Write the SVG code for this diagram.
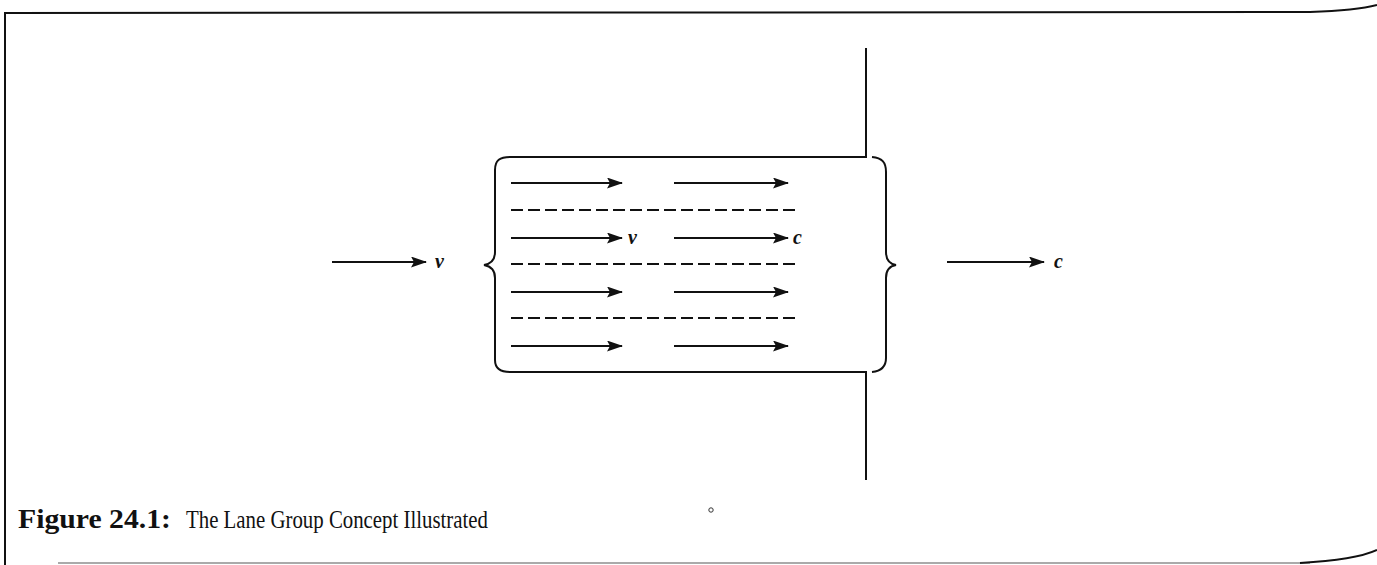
<svg xmlns="http://www.w3.org/2000/svg" width="1377" height="565" viewBox="0 0 1377 565">
<style>
.ln{stroke:#111;stroke-width:2;fill:none}
.arr{stroke:#111;stroke-width:2.2;fill:none;marker-end:url(#ah)}
.dash{stroke:#111;stroke-width:1.8;fill:none;stroke-dasharray:12,5}
.lbl{font-family:"Liberation Serif",serif;font-style:italic;font-weight:bold;font-size:20px;fill:#111}
.cap{font-family:"Liberation Serif",serif;font-size:26px;fill:#111}
.capb{font-family:"Liberation Serif",serif;font-size:28px;font-weight:bold;fill:#111}
</style>
<defs>
<marker id="ah" viewBox="0 0 16 11" refX="15" refY="5.5" markerWidth="16" markerHeight="11" markerUnits="userSpaceOnUse" orient="auto">
<path d="M0,0 L16,5.5 L0,11 L3,5.5 Z" fill="#111"/>
</marker>
</defs>
<rect width="1377" height="565" fill="#fff"/>
<g id="frame">
<path class="ln" d="M5,565 L5,13 L1310,12 C1340,11 1362,9 1377,5"/>
<path d="M58,563 L1310,563" stroke="#aaa" stroke-width="2" fill="none"/>
<path class="ln" d="M1300,563 C1340,561 1362,557 1377,550"/>
</g>
<g id="stopline">
<path class="ln" d="M866,48 L866,157 L510,157"/>
<path class="ln" d="M866,480 L866,372 L510,372"/>
</g>
<g id="lane-group">
<path class="ln" d="M510,157 C500,157 495,160 495,170 L495,252 C495,260 490,264 484,265 C490,266 495,270 495,278 L495,360 C495,368 500,372 510,372"/>
<path class="ln" d="M872,157 C882,158 886,162 886,172 L886,252 C886,260 890,264 896,265 C890,266 886,270 886,278 L886,358 C886,366 882,371 872,372"/>
</g>
<g id="connectors">
<line class="arr" x1="511" y1="183" x2="622" y2="183"/>
<line class="arr" x1="674" y1="183" x2="788" y2="183"/>
<line class="arr" x1="511" y1="238" x2="622" y2="238"/>
<line class="arr" x1="674" y1="238" x2="788" y2="238"/>
<line class="arr" x1="511" y1="292" x2="622" y2="292"/>
<line class="arr" x1="674" y1="292" x2="788" y2="292"/>
<line class="arr" x1="511" y1="346" x2="622" y2="346"/>
<line class="arr" x1="674" y1="346" x2="788" y2="346"/>
<line class="dash" x1="511" y1="210" x2="796" y2="210"/>
<line class="dash" x1="511" y1="264" x2="796" y2="264"/>
<line class="dash" x1="511" y1="318" x2="796" y2="318"/>
<line class="arr" x1="332" y1="262" x2="426" y2="262"/>
<line class="arr" x1="947" y1="262" x2="1044" y2="262"/>
</g>
<g id="labels">
<text class="lbl" x="628" y="244">v</text>
<text class="lbl" x="793" y="244">c</text>
<text class="lbl" x="435" y="268">v</text>
<text class="lbl" x="1054" y="268">c</text>
</g>
<g id="caption">
<text class="capb" x="18" y="528" textLength="153" lengthAdjust="spacingAndGlyphs">Figure 24.1:</text>
<text class="cap" x="186" y="528" textLength="302" lengthAdjust="spacingAndGlyphs">The Lane Group Concept Illustrated</text>
<circle cx="711" cy="510" r="2.2" fill="none" stroke="#333" stroke-width="1"/>
</g>
</svg>
